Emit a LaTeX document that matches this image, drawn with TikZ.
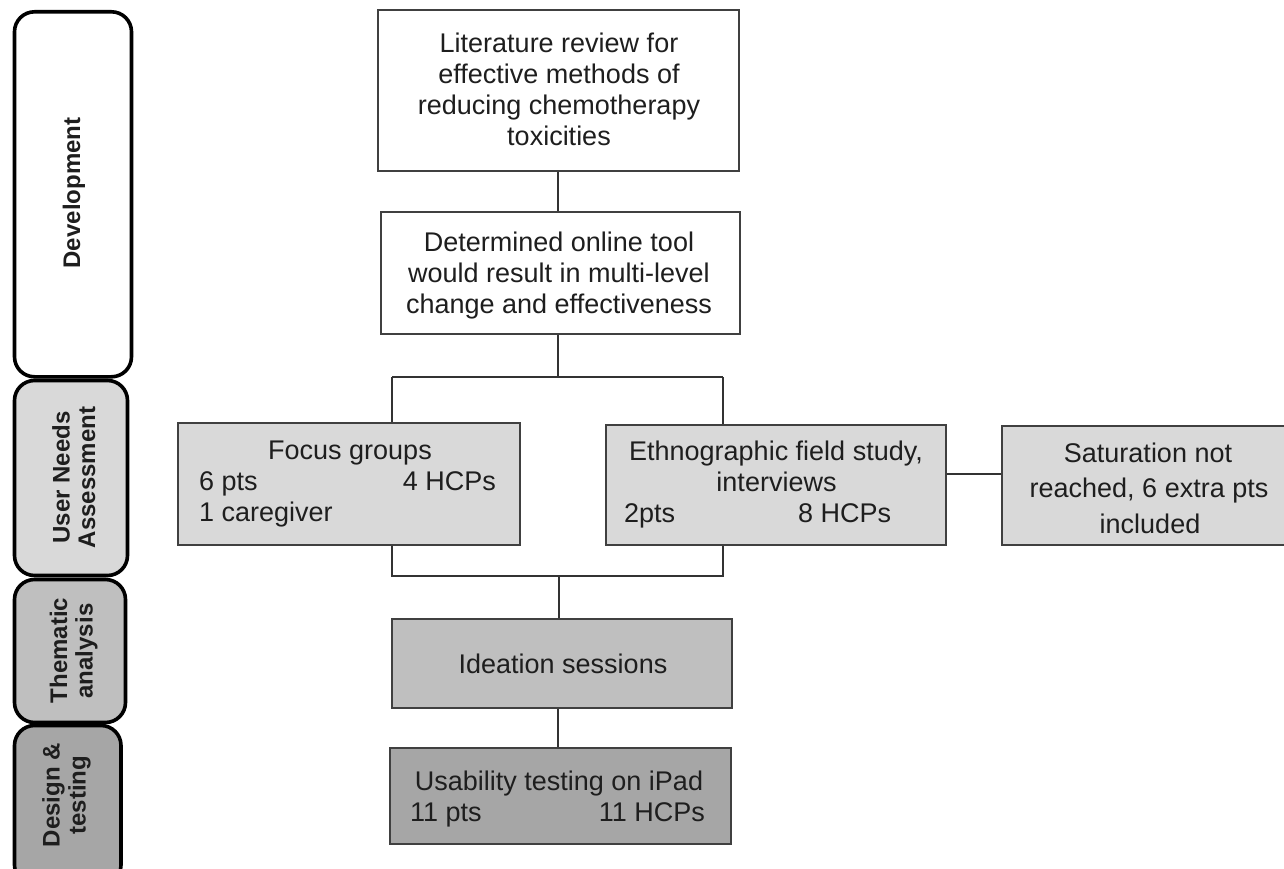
\documentclass[tikz,border=0pt]{standalone}
\usepackage{fontspec}
\setmainfont{Liberation Sans}
\definecolor{g1}{HTML}{D9D9D9}
\definecolor{g2}{HTML}{BFBFBF}
\definecolor{g3}{HTML}{A6A6A6}
\definecolor{ink}{HTML}{1E1E1E}
\definecolor{boxline}{HTML}{404040}
\definecolor{linkc}{HTML}{333333}
\tikzset{
  box/.style={draw=boxline, line width=1.6pt, inner sep=0pt, rectangle},
  lab/.style={inner sep=0pt, anchor=base, text=ink, font=\fontsize{27}{31}\selectfont},
  labl/.style={lab, anchor=base west},
  labr/.style={lab, anchor=base east},
  tab/.style={draw=black, line width=3.6pt, rounded corners=20pt, inner sep=0pt, rectangle},
  tablab/.style={inner sep=0pt, anchor=base, rotate=90, text=ink, font=\bfseries\fontsize{24}{26}\selectfont},
  link/.style={draw=linkc, line width=1.6pt},
}
\begin{document}
\begin{tikzpicture}[x=1pt,y=-1pt]
\useasboundingbox (0,0) rectangle (1284,869);
\clip (0,0) rectangle (1284,869);
\fill[white] (0,0) rectangle (1284,869);

% phase tabs
\node[tab, fill=white, minimum width=117pt, minimum height=365pt] (tdev) at (73,194.3) {};
\node[tab, fill=g1, minimum width=113pt, minimum height=195pt] (tuna) at (71,478) {};
\node[tab, fill=g2, minimum width=111pt, minimum height=143pt] (tthe) at (70,651) {};
\node[tab, fill=g3, minimum width=106.5pt, minimum height=159.5pt] (tdes) at (67.75,805.25) {};

\node[tablab] (ldev) at (80,193) {Development};
\node[tablab] (luna1) at (69.5,477.5) {User Needs};
\node[tablab] (luna2) at (95,477.5) {Assessment};
\node[tablab] (lthe1) at (67,650.5) {Thematic};
\node[tablab] (lthe2) at (92.5,651) {analysis};
\node[tablab] (ldes1) at (59.5,795) {Design \&};
\node[tablab] (ldes2) at (85.5,795) {testing};

% boxes
\node[box, fill=white, minimum width=361pt, minimum height=161pt] (lit) at (558.5,90.5) {};
\node[box, fill=white, minimum width=359pt, minimum height=122pt] (det) at (560.5,273) {};
\node[box, fill=g1, minimum width=342pt, minimum height=122pt] (focus) at (349,484) {};
\node[box, fill=g1, minimum width=340pt, minimum height=120pt] (ethno) at (776,485) {};
\node[box, fill=g1, minimum width=294pt, minimum height=119pt] (sat) at (1149,485.5) {};
\node[box, fill=g2, minimum width=340pt, minimum height=89pt] (idea) at (562,663.5) {};
\node[box, fill=g3, minimum width=341pt, minimum height=96pt] (usab) at (560.5,796) {};

% texts
\node[lab] (lit1) at (559,53) {Literature review for};
\node[lab] (lit2) at (559,84) {effective methods of};
\node[lab] (lit3) at (559,115) {reducing chemotherapy};
\node[lab] (lit4) at (559,146) {toxicities};

\node[lab] (det1) at (559,251) {Determined online tool};
\node[lab] (det2) at (559,282) {would result in multi-level};
\node[lab] (det3) at (559,313) {change and effectiveness};

\node[lab] (foc1) at (350,459) {Focus groups};
\node[labl] (foc2) at (199,490) {6 pts};
\node[labr] (foc3) at (496,490) {4 HCPs};
\node[labl] (foc4) at (199,521) {1 caregiver};

\node[lab] (eth1) at (776,460) {Ethnographic field study,};
\node[lab] (eth2) at (776.5,491) {interviews};
\node[labl] (eth3) at (624,522) {2pts};
\node[labl] (eth4) at (798,522) {8 HCPs};

\node[lab] (sat1) at (1148,462) {Saturation not};
\node[lab] (sat2) at (1149,497.5) {reached, 6 extra pts};
\node[lab] (sat3) at (1150,533) {included};

\node[lab] (ide1) at (563,673) {Ideation sessions};

\node[lab] (usa1) at (559,790) {Usability testing on iPad};
\node[labl] (usa2) at (410,821) {11 pts};
\node[labr] (usa3) at (705,821) {11 HCPs};

% connectors
\coordinate (sT) at (558,377);
\coordinate (sL) at (392,377);
\coordinate (sR) at (723,377);
\coordinate (jL) at (392,576);
\coordinate (jR) at (723,576);
\coordinate (jM) at (559,576);
\coordinate (sat0) at (0,474);

\draw[link] (lit.south -| sT) -- (det.north -| sT);
\draw[link] (det.south -| sT) -- (sT);
\draw[link] (sL) -- (sR);
\draw[link] (sL) -- (sL |- focus.north);
\draw[link] (sR) -- (sR |- ethno.north);
\draw[link] (focus.south -| jL) -- (jL) -- (jR) -- (ethno.south -| jR);
\draw[link] (jM) -- (jM |- idea.north);
\draw[link] (idea.south -| sT) -- (usab.north -| sT);
\draw[link] (ethno.east |- sat0) -- (sat.west |- sat0);
\end{tikzpicture}
\end{document}
